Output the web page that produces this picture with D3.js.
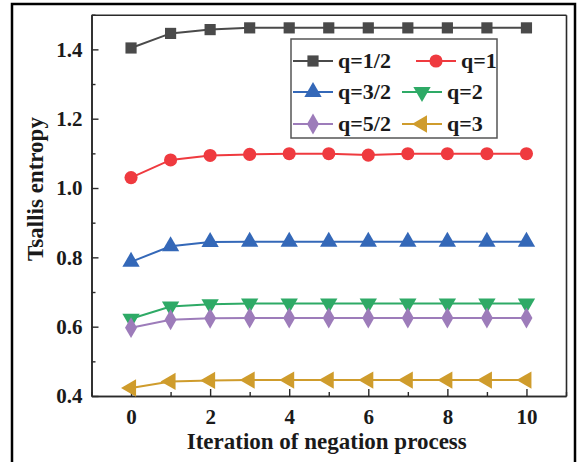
<!DOCTYPE html>
<html>
<head>
<meta charset="utf-8">
<script src="https://cdn.jsdelivr.net/npm/d3@7"></script>
<style>
  html, body { margin: 0; padding: 0; background: #fff; }
  svg { display: block; }
  svg text { font-family: "Liberation Serif", "Times New Roman", "DejaVu Serif", serif !important; font-weight: bold; fill: #1a1a1a; }
</style>
</head>
<body>
<svg id="chart" width="577" height="462"></svg>
<script>
// ---- data ----
const iterations = [0, 1, 2, 3, 4, 5, 6, 7, 8, 9, 10];
const seriesNames = ["q=1/2", "q=1", "q=3/2", "q=2", "q=5/2", "q=3"];
const q_half      = [1.404, 1.446, 1.457, 1.462, 1.462, 1.462, 1.462, 1.462, 1.462, 1.462, 1.462];
const q_one       = [1.030, 1.081, 1.094, 1.097, 1.099, 1.099, 1.095, 1.099, 1.099, 1.099, 1.099];
const q_threeHalf = [0.787, 0.832, 0.844, 0.845, 0.845, 0.845, 0.845, 0.845, 0.845, 0.845, 0.845];
const q_two       = [0.623, 0.658, 0.665, 0.667, 0.667, 0.667, 0.667, 0.667, 0.667, 0.667, 0.667];
const q_fiveHalf  = [0.597, 0.620, 0.624, 0.625, 0.625, 0.625, 0.625, 0.625, 0.625, 0.625, 0.625];
const q_three     = [0.423, 0.442, 0.445, 0.446, 0.446, 0.446, 0.446, 0.446, 0.446, 0.446, 0.446];
const xTicks = [0, 2, 4, 6, 8, 10];
const yTicks = [0.4, 0.6, 0.8, 1.0, 1.2, 1.4];
const xLabel = "Iteration of negation process";
const yLabel = "Tsallis entropy";

// ---- styles ----
const FONT = "'Liberation Serif', 'Times New Roman', 'DejaVu Serif', serif";
const colors = ["#4a4a4a", "#ef3a3f", "#3468b8", "#2eaa66", "#9d7cba", "#cf9c2c"];
const symbolTypes = [d3.symbolSquare, d3.symbolCircle, d3.symbolTriangle, d3.symbolTriangle, d3.symbolDiamond, d3.symbolTriangle];
const symbolRot = [0, 0, 0, 180, 0, -90];
const symbolSize = [125, 135, 130, 130, 125, 130];
const allValues = [q_half, q_one, q_threeHalf, q_two, q_fiveHalf, q_three];

const svg = d3.select("#chart");

// outer border
svg.append("rect").attr("x", 12).attr("y", 4).attr("width", 563).attr("height", 480)
  .attr("fill", "none").attr("stroke", "#000").attr("stroke-width", 2.5);

const x = d3.scaleLinear().domain([-1, 11]).range([91.5, 566]);
const y = d3.scaleLinear().domain([0.4, 1.5]).range([396, 14.7]);

// axes
const axisColor = "#2a2a2a";
const gx = svg.append("g").attr("transform", `translate(0,${y(0.4)})`)
  .call(d3.axisBottom(x).tickValues(xTicks).tickSizeInner(-7).tickSizeOuter(0).tickPadding(13).tickFormat(d3.format("d")));
const gxm = svg.append("g").attr("transform", `translate(0,${y(0.4)})`)
  .call(d3.axisBottom(x).tickValues([-1,1,3,5,7,9,11]).tickSizeInner(-4).tickSizeOuter(0).tickFormat(""));
const gy = svg.append("g").attr("transform", `translate(${x(-1)},0)`)
  .call(d3.axisLeft(y).tickValues(yTicks).tickSizeInner(-7).tickSizeOuter(0).tickPadding(9).tickFormat(d3.format(".1f")));
const gym = svg.append("g").attr("transform", `translate(${x(-1)},0)`)
  .call(d3.axisLeft(y).tickValues([0.5,0.7,0.9,1.1,1.3,1.5]).tickSizeInner(-4).tickSizeOuter(0).tickFormat(""));
const gt = svg.append("g").attr("transform", `translate(0,${y(1.5)})`)
  .call(d3.axisTop(x).tickValues([]).tickSizeOuter(0));
const gr = svg.append("g").attr("transform", `translate(${x(11)},0)`)
  .call(d3.axisRight(y).tickValues([]).tickSizeOuter(0));
[gx, gxm, gy, gym, gt, gr].forEach(g => {
  g.attr("font-family", FONT);
  g.selectAll("path.domain").attr("stroke", axisColor).attr("stroke-width", 1.6);
  g.selectAll(".tick line").attr("stroke", axisColor).attr("stroke-width", 1.4);
  g.selectAll(".tick text").attr("font-size", 21).attr("fill", "#1a1a1a")
    .attr("font-family", FONT).attr("font-weight", "bold");
});

// axis titles
svg.append("text").attr("x", (x(-1) + x(11)) / 2 - 2).attr("y", 449)
  .attr("text-anchor", "middle").attr("font-size", 23).attr("font-family", FONT).text(xLabel);
svg.append("text").attr("transform", `translate(43,${189}) rotate(-90)`)
  .attr("text-anchor", "middle").attr("font-size", 23).attr("font-family", FONT).text(yLabel);

// lines & markers
const line = d3.line().x((d, i) => x(iterations[i])).y(d => y(d));
allValues.forEach((vals, s) => {
  svg.append("path").attr("d", line(vals)).attr("fill", "none")
    .attr("stroke", colors[s]).attr("stroke-width", 2);
});
allValues.forEach((vals, s) => {
  const sym = d3.symbol().type(symbolTypes[s]).size(symbolSize[s]);
  svg.append("g").selectAll("path").data(vals).join("path")
    .attr("d", sym)
    .attr("transform", (d, i) => `translate(${x(iterations[i])},${y(d)}) rotate(${symbolRot[s]})`)
    .attr("fill", colors[s]);
});

// legend
const legendBox = { x: 291, y: 39, w: 206, h: 99 };
svg.append("rect").attr("x", legendBox.x).attr("y", legendBox.y)
  .attr("width", legendBox.w).attr("height", legendBox.h)
  .attr("fill", "#fff").attr("stroke", "#555").attr("stroke-width", 1.5);
const legendPos = [
  { lx: 293, ly: 61 }, { lx: 416, ly: 61 },
  { lx: 293, ly: 92 }, { lx: 402, ly: 92 },
  { lx: 293, ly: 124 }, { lx: 402, ly: 124 }
];
seriesNames.forEach((name, s) => {
  const p = legendPos[s];
  const g = svg.append("g").attr("transform", `translate(${p.lx},${p.ly})`);
  g.append("line").attr("x1", 0).attr("x2", 40).attr("y1", 0).attr("y2", 0)
    .attr("stroke", colors[s]).attr("stroke-width", 2);
  g.append("path").attr("d", d3.symbol().type(symbolTypes[s]).size(symbolSize[s])())
    .attr("transform", `translate(20,0) rotate(${symbolRot[s]})`).attr("fill", colors[s]);
  g.append("text").attr("x", 45).attr("y", 7).attr("font-size", 22).attr("font-family", FONT).text(name);
});
</script>
</body>
</html>
